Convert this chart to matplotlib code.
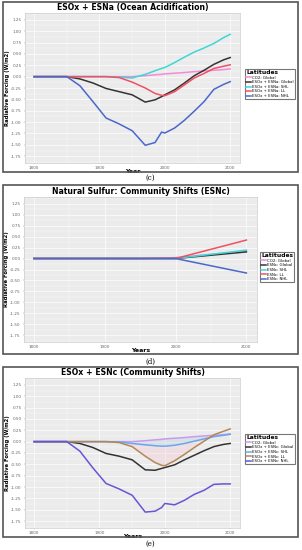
import numpy as np
import matplotlib
matplotlib.use("Agg")
import matplotlib.pyplot as plt
from matplotlib.patches import Rectangle

W, H = 302, 550

# ---- data ----
years = [1800, 1850, 1870, 1890, 1910, 1930, 1950, 1970, 1985, 1995, 2000,
         2015, 2030, 2045, 2060, 2075, 2090, 2100]

co2_global = [0, 0, 0, 0, 0, 0, 0, 0.02, 0.04, 0.05, 0.06, 0.075, 0.09, 0.11, 0.125, 0.14, 0.155, 0.17]

# (c) ESOx + ESNa
c_global = [0, 0, -0.05, -0.14, -0.26, -0.33, -0.40, -0.56, -0.51, -0.44, -0.40, -0.29, -0.14, 0.02, 0.14, 0.27, 0.37, 0.42]
c_shl = [0, 0, 0, 0, 0, -0.01, -0.03, 0.05, 0.13, 0.18, 0.20, 0.31, 0.43, 0.54, 0.63, 0.73, 0.86, 0.93]
c_ll = [0, 0, 0, 0, 0, -0.02, -0.12, -0.25, -0.37, -0.41, -0.42, -0.33, -0.18, -0.03, 0.07, 0.18, 0.23, 0.26]
c_nhl = [0, 0, -0.20, -0.55, -0.91, -1.04, -1.19, -1.51, -1.45, -1.22, -1.24, -1.13, -0.96, -0.76, -0.55, -0.28, -0.17, -0.11]

# (d) ESNc
d_years = [1800, 1950, 2000, 2100]
d_co2 = [0, 0, 0.02, 0.17]
d_global = [0, 0, 0, 0.15]
d_shl = [0, 0, 0, 0.19]
d_ll = [0, 0, 0, 0.42]
d_nhl = [0, 0, 0, -0.33]

# (e) ESOx + ESNc
e_global = [0, 0, -0.04, -0.13, -0.26, -0.32, -0.40, -0.62, -0.63, -0.59, -0.57, -0.51, -0.40, -0.30, -0.20, -0.11, -0.06, -0.04]
e_shl = [0, 0, 0, 0, 0, -0.01, -0.04, -0.07, -0.09, -0.10, -0.10, -0.08, -0.04, 0.01, 0.06, 0.11, 0.14, 0.16]
e_ll = [0, 0, 0, 0, 0, -0.02, -0.11, -0.32, -0.46, -0.52, -0.53, -0.42, -0.28, -0.13, 0.01, 0.15, 0.23, 0.28]
e_nhl = [0, 0, -0.21, -0.58, -0.92, -1.04, -1.18, -1.55, -1.53, -1.45, -1.36, -1.39, -1.29, -1.16, -1.07, -0.94, -0.93, -0.93]

yticks = [1.25, 1.00, 0.75, 0.50, 0.25, 0.00, -0.25, -0.50, -0.75, -1.00, -1.25, -1.50, -1.75]
xticks = [1800, 1900, 2000, 2100]

cols_cd = ['#f58ad8', '#333333', '#3fd6d6', '#f25062', '#4a68cc']
cols_e = ['#c69af2', '#333333', '#6aa6ee', '#b08858', '#6656d6']


def fx(px):
    return px / W


def fy(py):
    return 1 - py / H


fig = plt.figure(figsize=(W / 100, H / 100), dpi=100)
fig.patch.set_facecolor('white')


def panel(frame, plot, leg, title, xlabel, caption, xs, series, labels, colors, fills=None):
    # outer frame
    x0, y0, x1, y1 = frame
    fig.add_artist(Rectangle((fx(x0), fy(y1)), fx(x1 - x0), (y1 - y0) / H,
                             transform=fig.transFigure, fill=False,
                             edgecolor='#555555', linewidth=1.2))
    px0, py0, px1, py1 = plot
    ax = fig.add_axes([fx(px0), fy(py1), fx(px1 - px0), (py1 - py0) / H])
    ax.set_facecolor('#ebebeb')
    for s in ax.spines.values():
        s.set_edgecolor('#cccccc')
        s.set_linewidth(0.5)
    ax.set_xlim(1786, 2115)
    ax.set_ylim(-1.9, 1.4)
    ax.set_xticks(xticks)
    ax.set_xticks([1850, 1950, 2050], minor=True)
    ax.set_yticks(yticks)
    ax.set_yticks(np.arange(-1.875, 1.4, 0.25), minor=True)
    ax.set_yticklabels(['%.2f' % v for v in yticks])
    ax.grid(True, which='major', color='white', linewidth=0.5)
    ax.grid(True, which='minor', color='white', linewidth=0.25)
    ax.set_axisbelow(True)
    ax.tick_params(which='both', length=1, width=0.3, color='#888888',
                   labelsize=3, labelcolor='#666666', pad=1.5)
    ax.tick_params(which='minor', length=0)

    if fills:
        for (a, b, c) in fills:
            ya = np.array(series[a])
            yb = np.array(series[b])
            ax.fill_between(xs, ya, yb, where=yb < ya - 0.005, color=c,
                            alpha=0.25, linewidth=0, interpolate=True)

    for ys, lab, col in zip(series, labels, colors):
        ax.plot(xs, ys, color=col, linewidth=1.1, label=lab)

    ax.set_title(title, fontsize=5.6, fontweight='bold', pad=2.5)
    ax.set_xlabel(xlabel, fontsize=4.5, fontweight='bold', labelpad=-1)
    ax.set_ylabel('Radiative Forcing (W/m2)', fontsize=3.8, fontweight='bold', labelpad=1)

    lx0, ly0 = leg
    lg = ax.legend(loc='upper left', bbox_to_anchor=(fx(lx0), fy(ly0)),
                   bbox_transform=fig.transFigure, title='Latitudes',
                   fontsize=2.8, title_fontproperties={'size': 4.3, 'weight': 'bold'},
                   frameon=True, fancybox=False, handlelength=1.2, handletextpad=0.4,
                   labelspacing=0.15, borderpad=0.3, borderaxespad=0)
    lg.get_frame().set_edgecolor('#555555')
    lg.get_frame().set_linewidth(0.8)
    lg._legend_box.align = 'left'

    fig.text(fx((x0 + x1) / 2), fy(caption), '(' + title_caption[title] + ')',
             ha='center', va='center', fontsize=5, family='DejaVu Serif')
    return ax


title_caption = {
    'ESOx + ESNa (Ocean Acidification)': 'c',
    'Natural Sulfur: Community Shifts (ESNc)': 'd',
    'ESOx + ESNc (Community Shifts)': 'e',
}

panel((3, 2, 298, 172), (25, 13, 240, 163), (245, 69),
      'ESOx + ESNa (Ocean Acidification)', 'Year', 177.5, years,
      [co2_global, c_global, c_shl, c_ll, c_nhl],
      ['CO2: Global', 'ESOx + ESNa: Global', 'ESOx + ESNa: SHL',
       'ESOx + ESNa: LL', 'ESOx + ESNa: NHL'], cols_cd)

panel((3, 185, 298, 354), (24, 197, 257, 342), (260, 252),
      'Natural Sulfur: Community Shifts (ESNc)', 'Years', 362, d_years,
      [d_co2, d_global, d_shl, d_ll, d_nhl],
      ['CO2: Global', 'ESNc: Global', 'ESNc: SHL', 'ESNc: LL', 'ESNc: NHL'], cols_cd)

panel((3, 367, 298, 537), (25, 378, 240, 528), (245, 434),
      'ESOx + ESNc (Community Shifts)', 'Years', 544, years,
      [co2_global, e_global, e_shl, e_ll, e_nhl],
      ['CO2: Global', 'ESOx + ESNc: Global', 'ESOx + ESNc: SHL',
       'ESOx + ESNc: LL', 'ESOx + ESNc: NHL'], cols_e,
      fills=[(0, 3, '#f7b8c8'), (0, 2, '#9ee8e8')])

fig.savefig('out.png', dpi=100)
